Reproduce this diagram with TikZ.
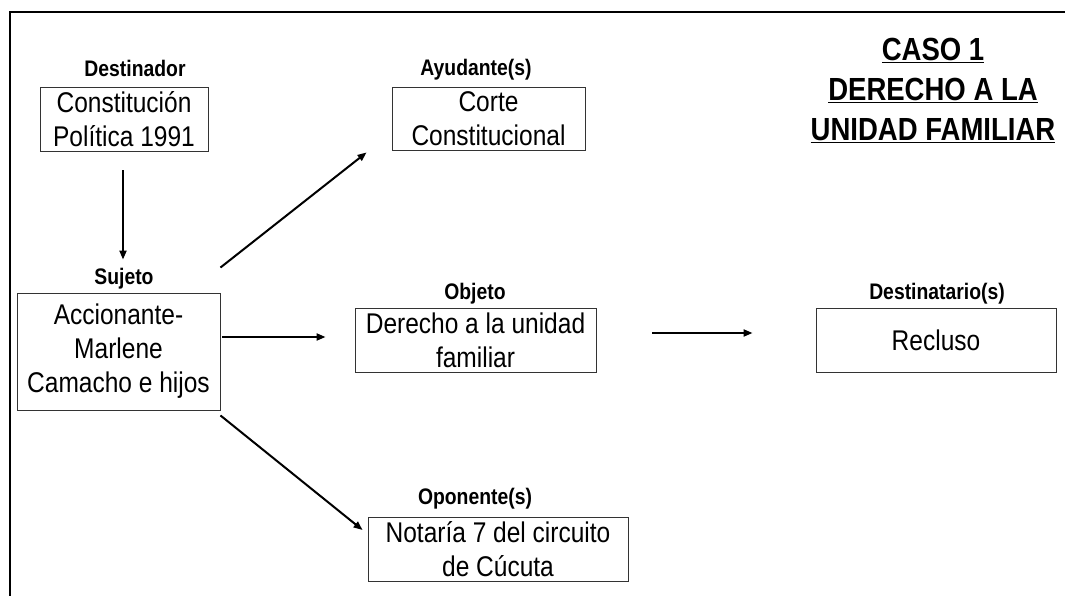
\documentclass[tikz,border=0pt]{standalone}
\usepackage{fontspec}
\setmainfont[FakeStretch=0.86]{Liberation Sans}
\usetikzlibrary{arrows.meta,calc}
\begin{document}
\begin{tikzpicture}[x=1pt,y=-1pt,
  box/.style={draw=black!80,line width=0.9pt,rectangle,align=center,inner sep=0pt,
    font=\fontsize{28.5}{34}\selectfont},
  lbl/.style={anchor=base,inner sep=0pt,font=\fontsize{22.5}{26}\selectfont\bfseries},
  conn/.style={line width=2pt,-{Triangle[length=9pt,width=7pt]}},
  frame/.style={line width=1.8pt}]
\useasboundingbox (0,0) rectangle (1065,596);
\coordinate (fl) at (10,596);
\coordinate (fc) at (10,12);
\coordinate (fr) at (1065,12);
\draw[frame] (fl) -- (fc) -- (fr);

\node[box,minimum width=168pt,minimum height=64pt] (des) at (124,119) {Constitución\\Política 1991};
\node[box,minimum width=193pt,minimum height=63pt] (ayu) at (488.5,118.5) {Corte\\Constitucional};
\node[box,minimum width=203pt,minimum height=117pt] (suj) at (118.5,351.5) {Accionante-\\Marlene\\Camacho e hijos};
\node[box,minimum width=241pt,minimum height=64pt] (obj) at (475.5,340) {Derecho a la unidad\\familiar};
\node[box,minimum width=240pt,minimum height=64pt] (dst) at (936,340) {Recluso};
\node[box,minimum width=260pt,minimum height=64pt] (opo) at (498,549) {Notaría 7 del circuito\\de Cúcuta};

\node[lbl] (desl) at (135,77) {Destinador};
\node[lbl] (ayul) at (476,76) {Ayudante(s)};
\node[lbl] (sujl) at (124,284) {Sujeto};
\node[lbl] (objl) at (475,299) {Objeto};
\node[lbl] (dstl) at (937,299) {Destinatario(s)};
\node[lbl] (opol) at (475,504) {Oponente(s)};

\node[align=center,inner sep=0pt,font=\fontsize{32}{40}\selectfont\bfseries] (title) at (933,90)
  {\underline{CASO 1}\\\underline{DERECHO A LA}\\\underline{UNIDAD FAMILIAR}};

\draw[conn] ($(des.south)+(-1,19)$) -- ($(suj.north)+(4.5,-33)$);
\draw[conn] ($(suj.north east)+(0,-25)$) -- ($(ayu.south west)+(-25,2)$);
\draw[conn] ($(suj.east)+(2,-14.5)$) -- ($(obj.west)+(-29,-3)$);
\draw[conn] ($(obj.east)+(56,-7)$) -- ($(dst.west)+(-63,-7)$);
\draw[conn] ($(suj.south east)+(0,5)$) -- ($(opo.west)+(-5,-19)$);
\end{tikzpicture}
\end{document}
